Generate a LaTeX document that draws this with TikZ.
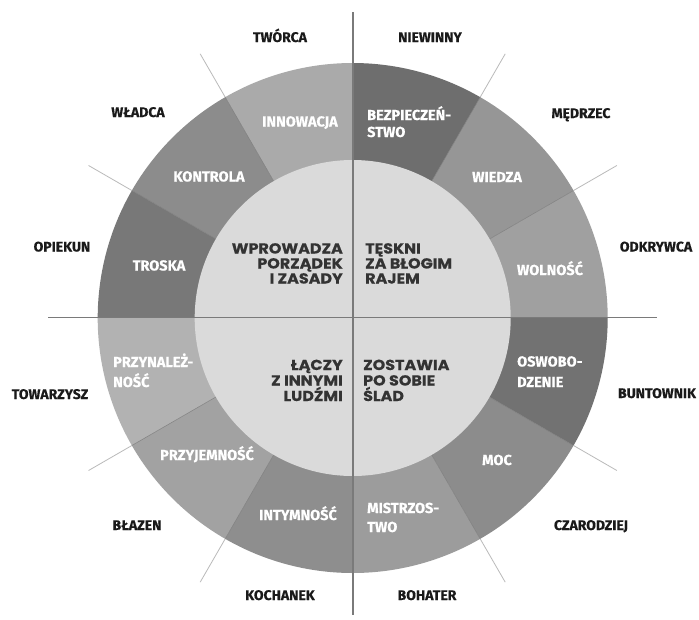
\documentclass[tikz,border=0pt]{standalone}
\usepackage{fontspec}
\newfontfamily\labfont{Fira Sans}[FakeBold=0.4]
\newfontfamily\innfont{Poppins}[FakeStretch=1.1,FakeBold=0.6]
\usetikzlibrary{calc}
\definecolor{innerfill}{HTML}{DADADA}
\definecolor{outertext}{HTML}{1A1A1A}
\definecolor{innertext}{HTML}{333333}
\begin{document}
\begin{tikzpicture}[x=1pt,y=-1pt,
  outerlab/.style={font=\labfont\bfseries\fontsize{14}{16}\selectfont, text=outertext, inner sep=0, anchor=base},
  seglab/.style={font=\labfont\bfseries\fontsize{14.5}{18}\selectfont, text=white, inner sep=0, anchor=base},
  seglabl/.style={seglab, anchor=base west},
  innlabr/.style={font=\innfont\bfseries\fontsize{14.5}{15}\selectfont, text=innertext, inner sep=0, anchor=base east},
  innlabl/.style={innlabr, anchor=base west},
  axisline/.style={draw=black!52, line width=1.8pt},
  spoke/.style={draw=black!27, line width=0.8pt},
  seam/.style={draw=black!50, line width=0.5pt}]
\useasboundingbox (0,0) rectangle (699,619);
\fill[white] (0,0) rectangle (699,619);
\coordinate (C) at (352.7,318);
% ring sectors
\foreach \a/\col in {0/A0A0A0,30/969696,60/6E6E6E,90/AAAAAA,120/8C8C8C,150/787878,180/B2B2B2,210/A2A2A2,240/8E8E8E,270/9C9C9C,300/8C8C8C,330/727272}{
  \definecolor{segcol}{HTML}{\col}
  \fill[segcol] (C) -- ++(-\a:255) arc[start angle=-\a, end angle=-\a-30, radius=255] -- cycle;
}
% seams and outer spokes
\foreach \a in {30,60,120,150,210,240,300,330}{
  \draw[seam] ($(C)+(-\a:158)$) -- ($(C)+(-\a:255)$);
  \draw[spoke] ($(C)+(-\a:255)$) -- ($(C)+(-\a:305)$);
}
% inner disc
\fill[innerfill] (C) circle[radius=158];
% axes
\coordinate (vt) at (352.7,12);
\coordinate (vb) at (352.7,615);
\coordinate (hl) at (48,317.5);
\coordinate (hr) at (657,317.5);
\draw[axisline] (vt) -- (vb);
\draw[axisline] (hl) -- (hr);
% outer labels
\node[outerlab] (tworca) at (280,42) {TWÓRCA};
\node[outerlab] (niewinny) at (430,42) {NIEWINNY};
\node[outerlab] (medrzec) at (581,118) {MĘDRZEC};
\node[outerlab] (odkrywca) at (656,251.5) {ODKRYWCA};
\node[outerlab] (buntownik) at (657,398) {BUNTOWNIK};
\node[outerlab] (czarodziej) at (591,530) {CZARODZIEJ};
\node[outerlab] (bohater) at (427,600) {BOHATER};
\node[outerlab] (kochanek) at (280,600) {KOCHANEK};
\node[outerlab] (blazen) at (137,530) {BŁAZEN};
\node[outerlab] (towarzysz) at (50,399) {TOWARZYSZ};
\node[outerlab] (opiekun) at (62,251.5) {OPIEKUN};
\node[outerlab] (wladca) at (138,117) {WŁADCA};
% segment labels
\node[seglab] (innowacja) at (300,126.5) {INNOWACJA};
\node[seglab] (kontrola) at (209,181.5) {KONTROLA};
\node[seglab] (troska) at (159,270.5) {TROSKA};
\node[seglabl] (bezp1) at (367,120) {BEZPIECZEŃ-};
\node[seglabl] (bezp2) at (367,137) {STWO};
\node[seglab] (wiedza) at (497,182) {WIEDZA};
\node[seglab] (wolnosc) at (550,275) {WOLNOŚĆ};
\node[seglabl] (oswo1) at (517,366.5) {OSWOBO-};
\node[seglabl] (oswo2) at (517,387) {DZENIE};
\node[seglab] (moc) at (497,465) {MOC};
\node[seglabl] (mist1) at (367,513) {MISTRZOS-};
\node[seglabl] (mist2) at (367,532) {TWO};
\node[seglab] (intym) at (298,520) {INTYMNOŚĆ};
\node[seglab] (przyj) at (207,460) {PRZYJEMNOŚĆ};
\node[seglabl] (przyn1) at (113,367) {PRZYNALEŻ-};
\node[seglabl] (przyn2) at (113,387) {NOŚĆ};
% inner labels
\node[innlabr] (tl1) at (343,253.5) {WPROWADZA};
\node[innlabr] (tl2) at (343,268.5) {PORZĄDEK};
\node[innlabr] (tl3) at (343,283.5) {I ZASADY};
\node[innlabl] (tr1) at (365,253.5) {TĘSKNI};
\node[innlabl] (tr2) at (365,268.5) {ZA BŁOGIM};
\node[innlabl] (tr3) at (365,283.5) {RAJEM};
\node[innlabr] (bl1) at (343,370) {ŁĄCZY};
\node[innlabr] (bl2) at (343,385.5) {Z INNYMI};
\node[innlabr] (bl3) at (343,401) {LUDŹMI};
\node[innlabl] (br1) at (363,370) {ZOSTAWIA};
\node[innlabl] (br2) at (363,385.5) {PO SOBIE};
\node[innlabl] (br3) at (363,401) {ŚLAD};
\end{tikzpicture}
\end{document}
